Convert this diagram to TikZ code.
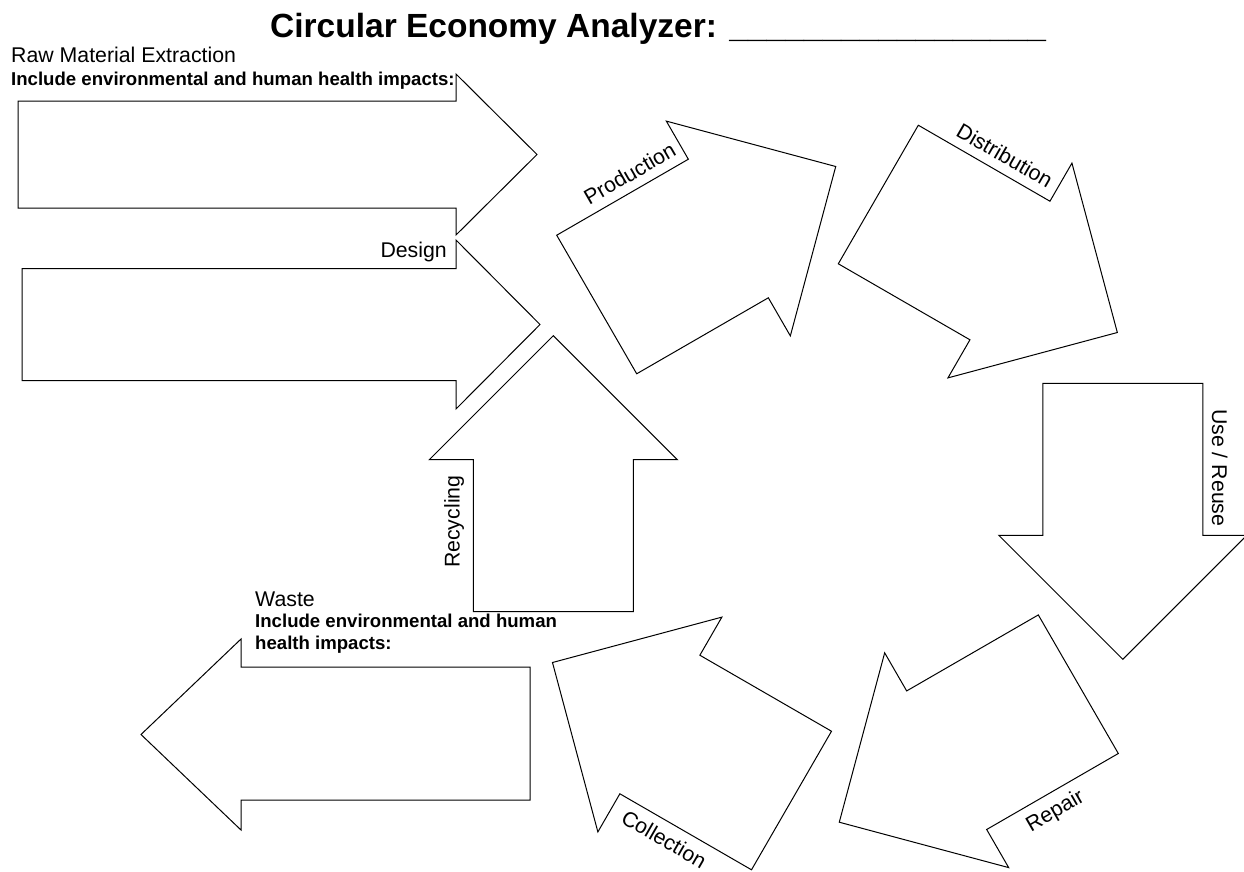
\documentclass[tikz,border=0pt]{standalone}
\usepackage{fontspec}
\setmainfont{Liberation Sans}
\usepackage{tikz}

\newcommand{\cyclestep}[7]{%
  \begin{scope}[shift={#2}, rotate=#3]
    \draw[block] (0,-80) -- (152,-80) -- (152,-124) -- (276,0) -- (152,124) -- (152,80) -- (0,80) -- cycle;
    \node[rotate=#4, anchor=#5] (#1) at (#6,89) {#7};
  \end{scope}}

\begin{document}
\begin{tikzpicture}[
  x=1pt, y=1pt,
  every node/.style={inner sep=0pt, font=\fontsize{21.3}{25}\selectfont},
  hint/.style={font=\fontsize{18.6}{21.5}\selectfont\bfseries},
  heading/.style={font=\fontsize{33.5}{40}\selectfont\bfseries},
  block/.style={draw=black, line width=1pt, line join=miter, fill=white}
]
\path[fill=white, use as bounding box] (0,0) rectangle (1244,-871);

\node[heading, anchor=base west] (title) at (270,-37)
  {Circular Economy Analyzer: \_\_\_\_\_\_\_\_\_\_\_\_\_\_\_\_\_};

\draw[block] (18,-101) -- (456,-101) -- (456,-74) -- (537,-154.5) -- (456,-235) -- (456,-208) -- (18,-208) -- cycle;
\node[anchor=base west] (raw) at (11,-62) {Raw Material Extraction};
\node[hint, anchor=base west] (rawhint) at (11,-85) {Include environmental and human health impacts:};

\draw[block] (22,-268.5) -- (456,-268.5) -- (456,-240) -- (540,-324.5) -- (456,-409) -- (456,-380.5) -- (22,-380.5) -- cycle;
\node[anchor=base east] (design) at (447,-257) {Design};

\cyclestep{prod}{(596.7,-304.5)}{30}{30}{south}{94}{Production}
\cyclestep{dist}{(878.3,-194.5)}{-30}{-30}{south}{90}{Distribution}
\cyclestep{use}{(1122.8,-383.3)}{-90}{-90}{south}{84.5}{Use / Reuse}
\cyclestep{repair}{(1078.3,-684.2)}{-150}{30}{north}{83.5}{Repair}
\cyclestep{coll}{(791.5,-800.5)}{150}{-30}{north}{91}{Collection}
\cyclestep{recyc}{(553.3,-611.7)}{90}{90}{south}{90}{Recycling}

\draw[block] (530,-667) -- (241,-667) -- (241,-639) -- (141,-734.5) -- (241,-830) -- (241,-800) -- (530,-800) -- cycle;
\node[anchor=base west] (waste) at (255,-606) {Waste};
\node[hint, anchor=base west] (wastehint) at (255,-627) {Include environmental and human};
\node[hint, anchor=base west] (wastehint2) at (255,-649) {health impacts:};
\end{tikzpicture}
\end{document}
